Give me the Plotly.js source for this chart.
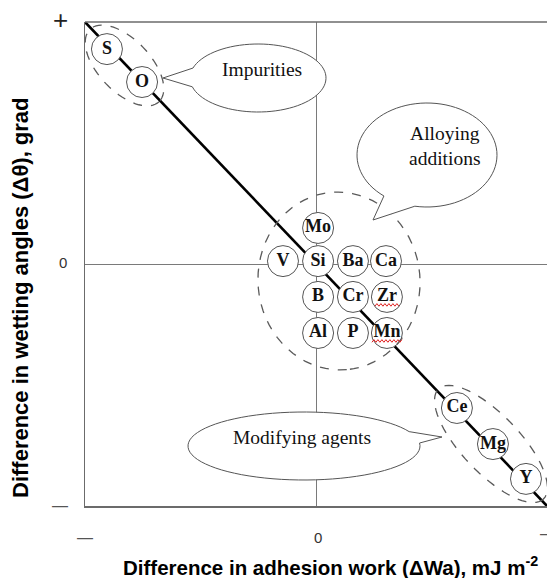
<!DOCTYPE html>
<html>
<head>
<meta charset="utf-8">
<script src="https://cdn.plot.ly/plotly-3.0.1.min.js"></script>
<style>html,body{margin:0;padding:0;background:#fff;}#chart{width:547px;height:578px;}</style>
</head>
<body>
<div id="chart"></div>
<script>
// ---- data (normalised units: both axes run from -1 to +1) ----
const elements = ["S","O","Mo","V","Si","Ba","Ca","B","Cr","Zr","Al","P","Mn","Ce","Mg","Y"];
const deltaWa  = [-0.905,-0.753,0.009,-0.143,0.009,0.160,0.303,0.009,0.160,0.307,0.009,0.160,0.307,0.610,0.766,0.909];
const deltaTheta = [0.888,0.752,0.149,0.012,0.012,0.012,0.012,-0.136,-0.136,-0.136,-0.285,-0.285,-0.285,-0.595,-0.744,-0.888];
const trendX = [-1, 1];
const trendY = [1, -1];
const xTickLabels = ["—","0","—"];
const yTickLabels = ["+","0","—"];
const groupNames = ["Impurities","Alloying<br>additions","Modifying agents"];
const flagged = ["Zr","Mn"];

// ---- layout geometry helpers (pixel -> axis / paper units) ----
const L=85, R=0, T=22, B=72, W=547, H=578;
const pw=W-L-R, ph=H-T-B;
const X = px => (px-(L+pw/2))/(pw/2);
const Y = py => ((T+ph/2)-py)/(ph/2);
const PX = px => (px-L)/pw;
const PY = py => (T+ph-py)/ph;

function ellipsePath(cx,cy,a,b,rotDeg){
  const r=rotDeg*Math.PI/180; let d="";
  for(let i=0;i<=72;i++){
    const t=i/72*2*Math.PI;
    const ex=a*Math.cos(t), ey=b*Math.sin(t);
    const px=cx+ex*Math.cos(r)-ey*Math.sin(r);
    const py=cy+ex*Math.sin(r)+ey*Math.cos(r);
    d+=(i?"L":"M")+X(px).toFixed(4)+","+Y(py).toFixed(4);
  }
  return d+"Z";
}
function bubblePath(cx,cy,rx,ry,s1,s2,tx,ty){
  let d="";const n=80;
  const start=s2, end=s1+360;
  for(let i=0;i<=n;i++){
    const t=(start+(end-start)*i/n)*Math.PI/180;
    const px=cx+rx*Math.cos(t), py=cy+ry*Math.sin(t);
    d+=(i?"L":"M")+X(px).toFixed(4)+","+Y(py).toFixed(4);
  }
  d+="L"+X(tx).toFixed(4)+","+Y(ty).toFixed(4)+"Z";
  return d;
}
function squiggle(ex,ey,half,dy){
  const cxp=L+pw/2+ex*pw/2, cyp=T+ph/2-ey*ph/2+dy;
  let d="";let k=0;
  for(let px=cxp-half;px<=cxp+half+0.01;px+=2){
    const py=cyp+((k%2)?-1.3:1.3);
    d+=(k?"L":"M")+X(px).toFixed(4)+","+Y(py).toFixed(4); k++;
  }
  return d;
}

const gray="#5a5a5a";
const shapes=[
  {type:"line",xref:"paper",yref:"paper",x0:0,x1:1,y0:1,y1:1,line:{color:"#6b6b6b",width:1.5},layer:"above"},
  {type:"path",path:ellipsePath(124.5,65.5,50,26,46.4),line:{color:gray,width:1.3,dash:"dash"},layer:"above"},
  {type:"path",path:ellipsePath(339,281,89,81,85),line:{color:gray,width:1.3,dash:"dash"},layer:"above"},
  {type:"path",path:ellipsePath(491,444,76,29,46.4),line:{color:gray,width:1.3,dash:"dash"},layer:"above"},
  {type:"path",path:bubblePath(258,78,68,34,165,197,163,78),fillcolor:"#fff",line:{color:"#555",width:1},layer:"above"},
  {type:"path",path:bubblePath(427,155,70,52,100,128,373,220),fillcolor:"#fff",line:{color:"#555",width:1},layer:"above"},
  {type:"path",path:bubblePath(304,446,116,34,-25,-5,442,437),fillcolor:"#fff",line:{color:"#555",width:1},layer:"above"}
];
flagged.forEach((el,j)=>{
  const i=elements.indexOf(el);
  shapes.push({type:"path",path:squiggle(deltaWa[i],deltaTheta[i],j?15:12,8),line:{color:"#e02020",width:1},layer:"above"});
});

const serif="Liberation Serif, Times New Roman, serif";
const sans="Liberation Sans, Arial, sans-serif";
function pa(text,px,py,size,color,extra){
  return Object.assign({text:text,x:PX(px),y:PY(py),xref:"paper",yref:"paper",xanchor:"center",yanchor:"middle",
    showarrow:false,font:{family:sans,size:size,color:color}},extra||{});
}
const annotations=[
  {text:groupNames[0],x:X(262),y:Y(69),xref:"x",yref:"y",xanchor:"center",yanchor:"middle",showarrow:false,font:{family:serif,size:19.5,color:"#111"}},
  {text:groupNames[1],x:X(445),y:Y(146),xref:"x",yref:"y",xanchor:"center",yanchor:"middle",showarrow:false,font:{family:serif,size:19.5,color:"#111"}},
  {text:groupNames[2],x:X(302),y:Y(437),xref:"x",yref:"y",xanchor:"center",yanchor:"middle",showarrow:false,font:{family:serif,size:19.5,color:"#111"}},
  pa(yTickLabels[0],60,20,26,"#222"),
  pa(yTickLabels[1],63,262,15,"#333"),
  pa(yTickLabels[2],60,505,16,"#555"),
  pa(xTickLabels[0],85,537,16,"#555"),
  pa(xTickLabels[1],318,537,15,"#333"),
  pa(xTickLabels[2],548,533,16,"#555"),
  pa("<b>Difference in adhesion work (ΔWa), mJ m<sup>-2</sup></b>",330,566,20.5,"#000"),
  pa("<b>Difference in wetting angles (Δθ), grad</b>",20,298,22,"#000",{textangle:-90})
];

const traces=[
  {x:trendX,y:trendY,mode:"lines",line:{color:"#000",width:2.6},hoverinfo:"skip",cliponaxis:false},
  {x:deltaWa,y:deltaTheta,text:elements,mode:"markers+text",textposition:"middle center",
   marker:{size:31,color:"#fff",line:{color:"#555",width:1}},
   textfont:{family:serif,size:18,color:"#111",weight:"bold"},cliponaxis:false,hoverinfo:"text"}
];

const layout={
  width:W,height:H,margin:{l:L,r:R,t:T,b:B},paper_bgcolor:"#fff",plot_bgcolor:"#fff",showlegend:false,
  xaxis:{range:[-1,1],showgrid:false,zeroline:true,zerolinecolor:"#7a7a7a",zerolinewidth:1,showline:true,linecolor:"#6b6b6b",linewidth:1.5,showticklabels:false,ticks:"",fixedrange:true},
  yaxis:{range:[-1,1],showgrid:false,zeroline:true,zerolinecolor:"#7a7a7a",zerolinewidth:1,showline:true,linecolor:"#6b6b6b",linewidth:1.5,showticklabels:false,ticks:"",fixedrange:true},
  shapes:shapes,annotations:annotations
};
Plotly.newPlot("chart",traces,layout,{displayModeBar:false,staticPlot:true});
</script>
</body>
</html>
